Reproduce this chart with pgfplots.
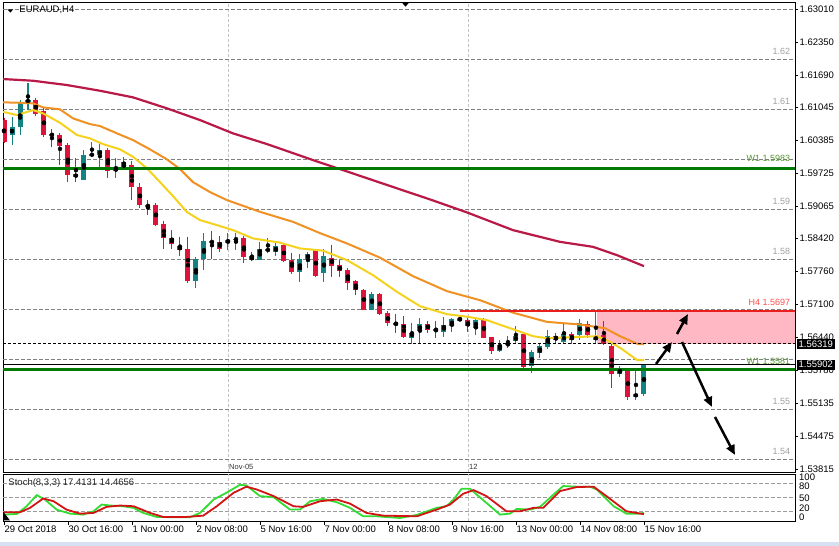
\documentclass[border=0pt]{standalone}
\usepackage{pgfplots}
\pgfplotsset{compat=1.18}
\usepackage{pgfplotstable}
\usepackage{fontspec}
\setmainfont{Liberation Sans}
\usetikzlibrary{arrows.meta}

\definecolor{bullc}{RGB}{20,130,130}
\definecolor{bearc}{RGB}{220,20,60}
\definecolor{maY}{RGB}{245,210,30}
\definecolor{maO}{RGB}{240,145,35}
\definecolor{maR}{RGB}{185,25,70}
\definecolor{lvl}{RGB}{128,128,128}
\definecolor{lvlt}{RGB}{160,160,160}
\definecolor{vgrid}{RGB}{195,195,195}
\definecolor{wgreen}{RGB}{0,122,0}
\definecolor{wtext}{RGB}{85,150,50}
\definecolor{h4red}{RGB}{235,30,30}
\definecolor{h4txt}{RGB}{255,80,80}
\definecolor{boxpink}{RGB}{255,184,196}
\definecolor{stG}{RGB}{50,220,50}
\definecolor{stR}{RGB}{210,20,20}
\definecolor{strip}{RGB}{214,224,240}

\newcommand{\fs}{\fontsize{9.5}{11}\selectfont}
\newcommand{\fl}{\fontsize{9}{10}\selectfont}
\newcommand{\fsm}{\fontsize{7.5}{8}\selectfont}

\pgfplotstableread{
i o c h l
0 1.6079 1.6035 1.6083 1.6033
4 1.6119 1.6091 1.6123 1.6087
5 1.6097 1.6049 1.6103 1.6045
6 1.6051 1.6048 1.6061 1.6025
7 1.6049 1.6027 1.6054 1.5989
8 1.6030 1.5969 1.6033 1.5955
9 1.5971 1.5965 1.6003 1.5955
13 1.6019 1.5978 1.6023 1.5963
16 1.5989 1.5945 1.5997 1.5919
17 1.5945 1.5909 1.5953 1.5903
18 1.5909 1.5906 1.5919 1.5889
19 1.5909 1.5869 1.5913 1.5867
20 1.5871 1.5843 1.5877 1.5821
21 1.5843 1.5831 1.5859 1.5821
22 1.5827 1.5819 1.5845 1.5807
23 1.5821 1.5757 1.5845 1.5753
26 1.5837 1.5834 1.5857 1.5801
27 1.5835 1.5821 1.5847 1.5815
30 1.5843 1.5805 1.5847 1.5794
31 1.5807 1.5799 1.5815 1.5797
33 1.5821 1.5818 1.5843 1.5814
35 1.5829 1.5798 1.5831 1.5796
36 1.5800 1.5776 1.5813 1.5771
39 1.5819 1.5767 1.5821 1.5765
41 1.5804 1.5787 1.5829 1.5765
42 1.5789 1.5777 1.5799 1.5766
43 1.5779 1.5754 1.5784 1.5739
44 1.5757 1.5739 1.5759 1.5729
45 1.5740 1.57004 1.5741 1.5700
47 1.5732 1.56924 1.5734 1.5689
48 1.56924 1.56724 1.56976 1.5667
49 1.56736 1.56704 1.56904 1.56524
50 1.5671 1.56444 1.56876 1.5644
53 1.5671 1.56604 1.56776 1.56536
54 1.5661 1.5657 1.56776 1.56424
58 1.5679 1.5667 1.56856 1.56556
60 1.5679 1.56444 1.56836 1.56424
61 1.56444 1.56176 1.56456 1.56124
65 1.5651 1.55856 1.56524 1.55824
69 1.5647 1.56404 1.56524 1.56324
71 1.5651 1.5639 1.56556 1.5631
73 1.56724 1.5649 1.56776 1.56424
75 1.5649 1.5631 1.56776 1.5629
76 1.5627 1.5571 1.56324 1.55444
78 1.5579 1.55256 1.55844 1.55204
}\bear

\pgfplotstableread{
i o c h l
1 1.6049 1.60644 1.60856 1.6029
2 1.60644 1.61124 1.6119 1.6049
3 1.61156 1.6119 1.61536 1.6099
10 1.5959 1.6009 1.6019 1.5959
11 1.60084 1.6011 1.6035 1.6005
12 1.6009 1.6019 1.6035 1.5979
14 1.5978 1.5982 1.6003 1.5963
15 1.5981 1.5995 1.6005 1.5979
24 1.5757 1.5801 1.5806 1.5743
25 1.5801 1.5837 1.5853 1.5779
28 1.5834 1.5840 1.5853 1.5819
29 1.5840 1.5842 1.5853 1.5819
32 1.5800 1.5821 1.5835 1.5799
34 1.5816 1.5827 1.5833 1.5807
37 1.5776 1.5801 1.5811 1.5755
38 1.5801 1.5812 1.5816 1.5783
40 1.5773 1.5807 1.5821 1.5756
46 1.57004 1.5731 1.5736 1.5700
51 1.56444 1.56544 1.56736 1.56324
52 1.56576 1.5671 1.56824 1.56336
55 1.56556 1.5669 1.56844 1.56456
56 1.5667 1.56804 1.56844 1.56556
57 1.56776 1.56836 1.56856 1.5677
59 1.56636 1.5679 1.56804 1.5649
62 1.56176 1.5629 1.5639 1.56156
63 1.5629 1.56324 1.5647 1.56236
64 1.5637 1.5647 1.5667 1.56324
66 1.5587 1.56156 1.56204 1.55736
67 1.56136 1.5627 1.56324 1.56036
68 1.56256 1.5647 1.56604 1.5621
70 1.56356 1.5651 1.56736 1.56324
72 1.5649 1.56736 1.56824 1.56404
74 1.56404 1.56456 1.56956 1.56324
77 1.55724 1.55824 1.5587 1.55656
79 1.55256 1.55324 1.5579 1.55204
80 1.55324 1.55902 1.55924 1.5527
}\bull

\begin{document}
\begin{tikzpicture}[x=1pt,y=1pt]
\path[use as bounding box, fill=white] (0,0) rectangle (839,546);
\fill[strip] (0,0) rectangle (839,3.5);

% ---------------- main price panel ----------------
\begin{axis}[
  at={(3pt,73.7pt)}, anchor=south west,
  scale only axis, width=792pt, height=470pt,
  xmin=-0.125, xmax=98.875, ymin=1.537496, ymax=1.63144,
  axis line style={line width=0.8pt},
  xtick=\empty,
  ytick={1.53815,1.54475,1.55135,1.5578,1.5644,1.571,1.5776,1.5842,1.59065,1.59725,1.60385,1.61045,1.6169,1.6235,1.6301},
  yticklabels={1.53815,1.54475,1.55135,1.55780,1.56440,1.57100,1.57760,1.58420,1.59065,1.59725,1.60385,1.61045,1.61690,1.62350,1.63010},
  ytick pos=right, yticklabel pos=right,
  tick align=outside, major tick length=3pt,
  ytick style={black, line width=0.6pt},
  yticklabel style={font=\fs, inner xsep=1.5pt},
]
% supply/demand zone (background)
\fill[boxpink] (axis cs:74.125,1.56319) rectangle (axis cs:98.875,1.5697);
% vertical separators
\pgfplotsinvokeforeach{28,58}{
  \draw[vgrid, line width=0.8pt, dash pattern=on 3pt off 2pt] (axis cs:#1,1.537496) -- (axis cs:#1,1.63144);
}
% round level lines
\pgfplotsinvokeforeach{1.54,1.55,1.56,1.57,1.58,1.59,1.60,1.61,1.62,1.63}{
  \draw[lvl, line width=0.7pt, dash pattern=on 4pt off 2pt] (axis cs:-0.125,#1) -- (axis cs:98.875,#1);
}
% candles: wicks and bodies
\addplot[only marks, mark=none, forget plot, error bars/.cd, y dir=both, y explicit, error mark=none,
  error bar style={bearc, line width=1pt}]
  table[x=i, y expr=(\thisrow{h}+\thisrow{l})/2, y error expr=(\thisrow{h}-\thisrow{l})/2] {\bear};
\addplot[only marks, mark=none, forget plot, error bars/.cd, y dir=both, y explicit, error mark=none,
  error bar style={bearc, line width=5pt}]
  table[x=i, y expr=(\thisrow{o}+\thisrow{c})/2, y error expr={max(abs(\thisrow{o}-\thisrow{c})/2,0.0001)}] {\bear};
\addplot[only marks, mark=none, forget plot, error bars/.cd, y dir=both, y explicit, error mark=none,
  error bar style={bullc, line width=1pt}]
  table[x=i, y expr=(\thisrow{h}+\thisrow{l})/2, y error expr=(\thisrow{h}-\thisrow{l})/2] {\bull};
\addplot[only marks, mark=none, forget plot, error bars/.cd, y dir=both, y explicit, error mark=none,
  error bar style={bullc, line width=5pt}]
  table[x=i, y expr=(\thisrow{o}+\thisrow{c})/2, y error expr={max(abs(\thisrow{o}-\thisrow{c})/2,0.0001)}] {\bull};
% moving averages
\addplot[maR, line width=2.2pt] coordinates {
(-0.125,1.6161) (3.625,1.61576) (7.875,1.6149) (12,1.61376) (16.125,1.61244) (20.375,1.61024)
(24.5,1.6079) (28.625,1.60524) (32.875,1.6031) (34.5,1.6022) (38.625,1.5999) (42,1.5981)
(47,1.5954) (51.125,1.59318) (53.25,1.59204) (57.875,1.58944) (63.625,1.5859) (69.5,1.58356)
(73.625,1.58256) (76.625,1.5809) (80,1.5787)};
\addplot[maO, line width=2pt] coordinates {
(-0.125,1.61144) (2,1.61136) (3.625,1.61124) (4.875,1.61044) (7,1.61004) (8.625,1.60824)
(10.75,1.6071) (12,1.6067) (14.125,1.60524) (16.125,1.6039) (18.25,1.60204) (20.375,1.60004)
(22,1.5981) (23.625,1.5955) (25.75,1.5935) (27.875,1.5919) (32,1.58956) (36.125,1.58756)
(39.5,1.5853) (42.875,1.58324) (47,1.5804) (51.125,1.5767) (55.375,1.5737) (59.5,1.5719)
(63.625,1.5694) (67.875,1.56756) (72,1.56704) (75.125,1.5663) (77,1.5647) (79.125,1.5632) (80,1.5631)};
\addplot[maY, line width=2pt] coordinates {
(-0.125,1.60956) (1.625,1.6089) (3.625,1.6099) (4.875,1.60924) (7,1.60736) (9.125,1.6049)
(10.75,1.60424) (12.375,1.6031) (14.5,1.60204) (16.125,1.60056) (17.875,1.59824) (19.5,1.5955)
(21.125,1.5927) (22.875,1.5895) (24.5,1.5879) (26.625,1.5869) (28.625,1.5859) (31.125,1.58424)
(34.5,1.5834) (37,1.58224) (39.875,1.5818) (42.875,1.5799) (46.125,1.5769) (49.125,1.57356)
(52,1.5707) (55.375,1.5691) (57.875,1.5686) (60.375,1.5679) (63.625,1.5661) (66.125,1.5647)
(67.875,1.5643) (72,1.56456) (74.125,1.5647) (75.375,1.5639) (77,1.5624) (79.125,1.55996) (80,1.5599)};
% horizontal objects
\draw[wgreen, line width=3pt] (axis cs:-0.125,1.5983) -- (axis cs:98.875,1.5983);
\draw[wgreen, line width=3pt] (axis cs:-0.125,1.5581) -- (axis cs:98.875,1.5581);
\draw[black, line width=1pt] (axis cs:-0.125,1.55902) -- (axis cs:98.875,1.55902);
\draw[black, line width=1pt, dash pattern=on 3pt off 2pt] (axis cs:-0.125,1.56319) -- (axis cs:98.875,1.56319);
\draw[h4red, line width=2pt] (axis cs:57,1.5697) -- (axis cs:98.875,1.5697);
% arrows
\draw[black, line width=2.5pt, -{Triangle[length=10pt,width=8.5pt]}] (axis cs:81.5,1.55914) -- (axis cs:83.5,1.56354);
\draw[black, line width=2.5pt, -{Triangle[length=10pt,width=8.5pt]}] (axis cs:84.125,1.56514) -- (axis cs:85.5,1.56914);
\draw[black, line width=2.5pt, -{Triangle[length=10pt,width=8.5pt]}] (axis cs:84.75,1.56354) -- (axis cs:88.5,1.55055);
\draw[black, line width=2.5pt, -{Triangle[length=10pt,width=8.5pt]}] (axis cs:88.875,1.54855) -- (axis cs:91.375,1.54095);
% level labels
\node[anchor=base east, font=\fl, text=lvlt, inner sep=0pt, yshift=5.5pt] at (axis cs:98.3,1.62) {1.62};
\node[anchor=base east, font=\fl, text=lvlt, inner sep=0pt, yshift=5.5pt] at (axis cs:98.3,1.61) {1.61};
\node[anchor=base east, font=\fl, text=lvlt, inner sep=0pt, yshift=5.5pt] at (axis cs:98.3,1.59) {1.59};
\node[anchor=base east, font=\fl, text=lvlt, inner sep=0pt, yshift=5.5pt] at (axis cs:98.3,1.58) {1.58};
\node[anchor=base east, font=\fl, text=lvlt, inner sep=0pt, yshift=5.5pt] at (axis cs:98.3,1.55) {1.55};
\node[anchor=base east, font=\fl, text=lvlt, inner sep=0pt, yshift=5.5pt] at (axis cs:98.3,1.54) {1.54};
\node[anchor=base east, font=\fl, text=wtext, inner sep=0pt, yshift=7pt] at (axis cs:98.3,1.5983) {W1 1.5983};
\node[anchor=base east, font=\fl, text=h4txt, inner sep=0pt, yshift=5.5pt] at (axis cs:98.3,1.5697) {H4 1.5697};
\node[anchor=base east, font=\fl, text=wtext, inner sep=0pt, yshift=4.5pt] at (axis cs:98.3,1.5581) {W1 1.5581};
\node[anchor=south west, font=\fsm, text=black!80, inner sep=0pt, xshift=1pt, yshift=3pt] at (axis cs:28,1.537496) {Nov-05};
\node[anchor=south west, font=\fsm, text=black!80, inner sep=0pt, xshift=1pt, yshift=3pt] at (axis cs:58,1.537496) {12};
\coordinate (bx1) at (axis cs:98.875,1.56319);
\coordinate (bx2) at (axis cs:98.875,1.55902);
\end{axis}

% price boxes
\node[fill=black, text=white, font=\fs, anchor=west, inner xsep=2pt, inner ysep=1.6pt, xshift=1.5pt] at (bx1) {1.56319};
\node[fill=black, text=white, font=\fs, anchor=west, inner xsep=2pt, inner ysep=1.6pt, xshift=1.5pt] at (bx2) {1.55902};

% title
\fill[black] (7.3,536.7) -- (13.3,536.7) -- (10.3,533.4) -- cycle;
\node[anchor=west, inner sep=0pt, font=\fs] at (19.3,535.9) {EURAUD,H4};
\fill[black] (401.7,543.7) -- (409.3,543.7) -- (405.5,539.3) -- cycle;

% ---------------- stochastic panel ----------------
\begin{axis}[
  at={(3pt,25pt)}, anchor=south west,
  scale only axis, width=792pt, height=47pt,
  xmin=-0.125, xmax=98.875, ymin=0, ymax=100,
  axis line style={line width=0.8pt},
  ytick=\empty,
  xtick={0,8,...,80},
  xticklabels={29 Oct 2018,30 Oct 16:00,1 Nov 00:00,2 Nov 08:00,5 Nov 16:00,7 Nov 00:00,8 Nov 08:00,9 Nov 16:00,13 Nov 00:00,14 Nov 08:00,15 Nov 16:00},
  xtick pos=bottom, tick align=outside, major tick length=4pt,
  xtick style={black, line width=0.6pt},
  xticklabel style={font=\fs, anchor=north west, inner xsep=0.5pt, inner ysep=1pt},
]
\pgfplotsinvokeforeach{28,58}{
  \draw[vgrid, line width=0.8pt, dash pattern=on 3pt off 2pt] (axis cs:#1,0) -- (axis cs:#1,100);
}
\pgfplotsinvokeforeach{20,50,80}{
  \draw[vgrid!80!black, line width=0.7pt, dash pattern=on 4pt off 2pt] (axis cs:-0.125,#1) -- (axis cs:98.875,#1);
}
\addplot[stG, line width=1.8pt] coordinates {
(0,13.6) (1.6,15) (2.8,31) (4.1,55) (5.1,45.7) (6.6,24) (8.25,15.7) (9.9,13.6) (11.2,20.7) (12.2,35)
(13.25,32.9) (14.9,31.4) (16.2,27.9) (17.4,17.2) (19.1,8.6) (21.6,7.9) (23.25,7.9) (24.5,17.2) (26.2,45.7)
(27.8,60) (29.5,77) (30.3,75.7) (32,52.9) (33.7,50.7) (35.75,24.3) (37,24.3) (38.25,42) (39.9,47)
(41.6,40) (43.25,28) (44.9,10) (46.6,10) (49.5,6.4) (51.6,13) (54.1,28) (55.3,31.4) (56.2,45.7)
(57.2,68.6) (58.25,68.6) (60.3,38.6) (62,13.6) (63.25,15.7) (64.1,25.7) (65.75,24.3) (67,30) (68.7,56.4)
(69.9,74.3) (71.6,73) (73.25,73) (74.1,67) (76.2,31.4) (77.8,15.7) (79.5,15.7) (80,17.4)};
\addplot[stR, line width=1.8pt] coordinates {
(0,18.6) (2,18.6) (3.25,27.9) (4.9,47.9) (6.2,42) (7.8,24.3) (9.5,15.7) (11.2,17.2) (12.8,30) (14.5,32.9)
(16.2,31.4) (18.25,17.2) (19.9,8.6) (22.8,8.6) (24.9,11.4) (26.6,31.4) (28.7,60) (30.3,73) (31.6,67)
(33.7,53) (36.2,31.4) (37.4,30) (39.5,42) (41.6,45.7) (43.25,37) (45.3,17.2) (47.4,11.4) (51.6,10)
(54.1,24.3) (55.75,35) (57.4,58) (58.7,65.7) (60.3,53) (62.8,20.7) (64.5,20.7) (66.2,28) (67.4,28)
(69.5,63.6) (71.6,72.3) (73.7,73) (75.3,53) (77.8,20.7) (80,14.5)};
\coordinate (s100) at (axis cs:98.875,93);
\coordinate (s80) at (axis cs:98.875,73);
\coordinate (s50) at (axis cs:98.875,49);
\coordinate (s20) at (axis cs:98.875,26.5);
\coordinate (s0) at (axis cs:98.875,7);
\end{axis}
\node[anchor=west, inner sep=0pt, font=\fs] at ([xshift=4pt]s100) {100};
\node[anchor=west, inner sep=0pt, font=\fs] at ([xshift=4pt]s80) {80};
\node[anchor=west, inner sep=0pt, font=\fs] at ([xshift=4pt]s50) {50};
\node[anchor=west, inner sep=0pt, font=\fs] at ([xshift=4pt]s20) {20};
\node[anchor=west, inner sep=0pt, font=\fs] at ([xshift=4pt]s0) {0};
\node[anchor=west, inner sep=0pt, font=\fs, text=black!85] at (8.3,62.7) {Stoch(8,3,3) 17.4131 14.4656};
\fill[black] (3.5,34) -- (3.5,25.5) -- (10,25.5) -- cycle;
\end{tikzpicture}
\end{document}
